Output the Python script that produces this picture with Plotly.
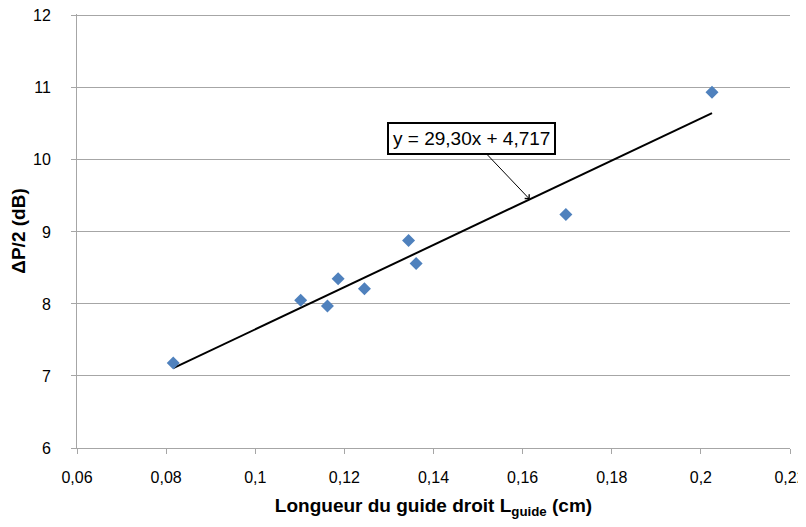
import plotly.graph_objects as go

# Data
longueur = [0.0816, 0.1102, 0.1162, 0.1186, 0.1245, 0.1344, 0.1361, 0.1697, 0.2025]
delta_p = [7.18, 8.05, 7.97, 8.35, 8.21, 8.88, 8.56, 9.24, 10.94]
slope = 29.30
intercept = 4.717
x_ticks = [0.06, 0.08, 0.10, 0.12, 0.14, 0.16, 0.18, 0.20, 0.22]
x_ticklabels = ["0,06", "0,08", "0,1", "0,12", "0,14", "0,16", "0,18", "0,2", "0,22"]
y_ticks = [6, 7, 8, 9, 10, 11, 12]
eq_label = "y = 29,30x + 4,717"
arrow_x = 0.1616

fit_x = [min(longueur), max(longueur)]
fit_y = [slope * v + intercept for v in fit_x]

FONT = "Liberation Sans, Arial, sans-serif"
GRID = "#A6A6A6"

fig = go.Figure()
fig.add_trace(go.Scatter(x=fit_x, y=fit_y, mode="lines",
                         line=dict(color="black", width=2), showlegend=False))
fig.add_trace(go.Scatter(x=longueur, y=delta_p, mode="markers",
                         marker=dict(symbol="diamond", size=10, color="#4F81BD"),
                         showlegend=False))

fig.add_annotation(x=arrow_x, y=slope * arrow_x + intercept, xref="x", yref="y",
                   text=eq_label, showarrow=True, ax=-58, ay=-61,
                   arrowhead=4, arrowsize=1.2, arrowwidth=1, arrowcolor="black",
                   bordercolor="black", borderwidth=2, borderpad=4, bgcolor="white",
                   font=dict(family=FONT, size=19, color="black"))

fig.update_layout(
    width=798, height=511,
    margin=dict(l=69, r=16, t=6, b=71),
    paper_bgcolor="white", plot_bgcolor="white",
    font=dict(family=FONT, size=16, color="black"),
)
fig.update_xaxes(range=[0.06, 0.22], tickvals=x_ticks, ticktext=x_ticklabels,
                 automargin=False, ticklabeloverflow="allow",
                 showgrid=False, zeroline=False, showline=True, linecolor=GRID, linewidth=1,
                 ticks="outside", ticklen=5, tickcolor=GRID, ticklabelstandoff=10,
                 title=dict(text="<b>Longueur du guide droit L<sub>guide</sub> (cm)</b>",
                            font=dict(size=19), standoff=17))
# the top of the range is nudged slightly above 12 so the 12 gridline is drawn
fig.update_yaxes(range=[6, 12.025], tickvals=y_ticks, automargin=False,
                 ticklabeloverflow="allow",
                 showgrid=True, gridcolor=GRID, gridwidth=1, zeroline=False,
                 showline=True, linecolor=GRID, linewidth=1,
                 ticks="outside", ticklen=5, tickcolor=GRID, ticklabelstandoff=17,
                 title=dict(text="<b>ΔP/2 (dB)</b>", font=dict(size=19), standoff=6))

fig.write_html("out.html")
